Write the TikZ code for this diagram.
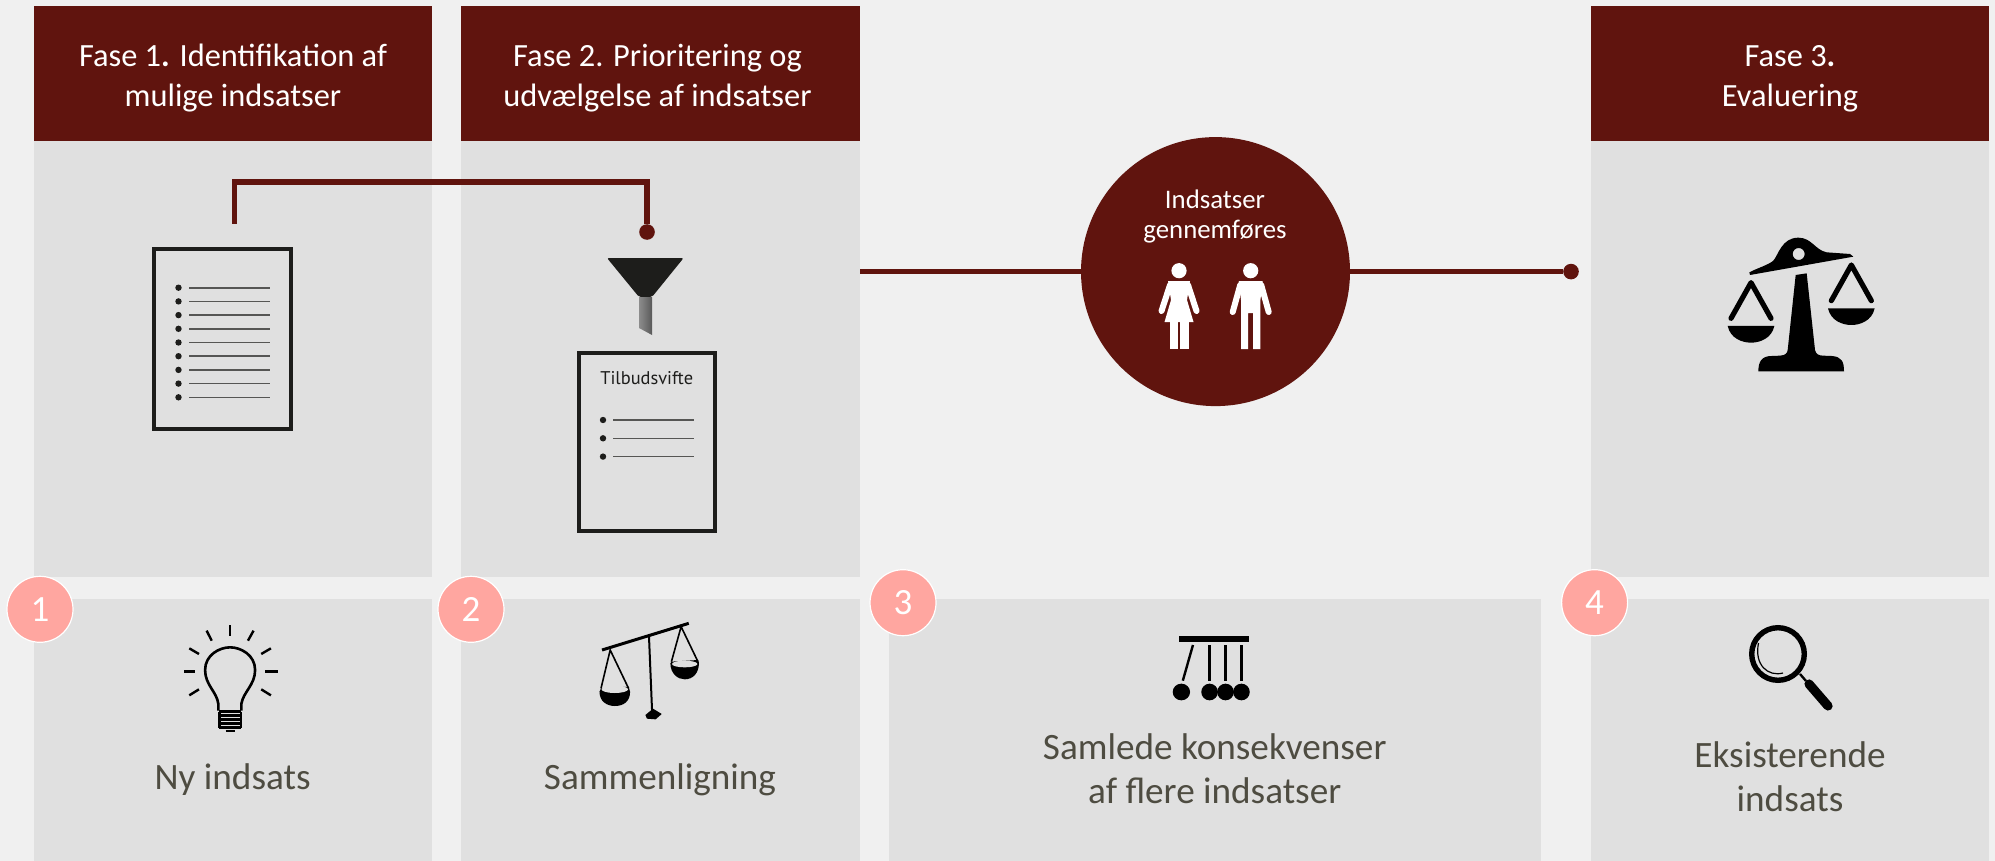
\documentclass[tikz,border=0pt]{standalone}
\usepackage{fontspec}
\usepackage{xcolor}
\setmainfont{Carlito}
\newfontfamily\docfont{PT Sans}
\newcommand{\headstrut}{\rule{0pt}{15.4pt}}
\definecolor{darkred}{HTML}{60140E}
\definecolor{pagegray}{HTML}{F0F0F0}
\definecolor{panelgray}{HTML}{E0E0E0}
\definecolor{badgepink}{HTML}{FFA6A0}
\definecolor{inkblack}{HTML}{1D1D1B}
\definecolor{captiongray}{HTML}{4E4C41}

\begin{document}
\begin{tikzpicture}[
        x=0.5pt, y=-0.5pt, % one unit is one pixel of the layout
        header/.style={
            rectangle,
            fill=darkred,
            minimum height=67.5pt,
            inner sep=0pt,
            align=center,
            text=white,
            font=\fontsize{16.2}{20}\selectfont
        },
        panel/.style={
            rectangle,
            fill=panelgray,
            inner sep=0pt
        },
        doc/.style={
            rectangle,
            draw=inkblack,
            line width=2pt,
            inner sep=0pt
        },
        badge/.style={
            circle,
            fill=badgepink,
            draw=white,
            line width=0.6pt,
            minimum size=33pt,
            inner sep=0pt,
            text=white,
            font=\fontsize{18.5}{20}\selectfont
        },
        caption/.style={
            align=center,
            inner sep=0pt,
            text=captiongray,
            font=\fontsize{18.6}{22}\selectfont
        },
        dot/.style={
            circle,
            fill=darkred,
            minimum size=7.8pt,
            inner sep=0pt
        },
        link/.style={
            line width=2.6pt,
            color=darkred
        },
        doclist/.style={
            line width=0.8pt,
            color=inkblack!75
        }
    ]
        \fill[pagegray] (0,0) rectangle (1995,861);
        \useasboundingbox (0,0) rectangle (1995,861);

        % panels
        \node (panelA) [panel, minimum width=199pt, minimum height=218pt] at (233,359) {};
        \node (panelB) [panel, minimum width=199.5pt, minimum height=218pt] at (660.5,359) {};
        \node (panelD) [panel, minimum width=199pt, minimum height=218pt] at (1790,359) {};
        \node (lowerA) [panel, minimum width=199pt, minimum height=131pt] at (233,730) {};
        \node (lowerB) [panel, minimum width=199.5pt, minimum height=131pt] at (660.5,730) {};
        \node (lowerC) [panel, minimum width=326pt, minimum height=131pt] at (1215,730) {};
        \node (lowerD) [panel, minimum width=199pt, minimum height=131pt] at (1790,730) {};

        % phase headers
        \node (fase1) [header, minimum width=199pt] at (233,73.5) {\headstrut Fase 1{\bfseries .} Identifikation af\\mulige indsatser};
        \node (fase2) [header, minimum width=199.5pt] at (660.5,73.5) {\headstrut\hspace*{-3pt}Fase 2. Prioritering og\\\hspace*{-3pt}udvælgelse af indsatser};
        \node (fase3) [header, minimum width=199pt] at (1790,73.5) {\headstrut Fase 3{\bfseries .}\\Evaluering};

        % list document
        \node (longlist) [doc, minimum width=68.5pt, minimum height=90pt] at (222.5,339) {};
        \foreach \row in {0,...,8} {
            \fill[inkblack] (178.5,287.7+13.7*\row) circle (3.2);
            \draw[doclist] (189,287.7+13.7*\row) -- (269.5,287.7+13.7*\row);
        }

        % short list document
        \node (shortlist) [doc, minimum width=68pt, minimum height=89pt] at (647,442) {};
        \node (shorttitle) [anchor=base, inner sep=0pt, text=inkblack, font=\docfont\fontsize{9.2}{10}\selectfont] at (646.7,384) {Tilbudsvifte};
        \foreach \row in {0,1,2} {
            \fill[inkblack] (603,420+18.3*\row) circle (3.2);
            \draw[doclist] (613,420+18.3*\row) -- (694,420+18.3*\row);
        }

        % funnel
        \fill[inkblack, rounded corners=1pt] (607,258) -- (683.6,258) -- (652,297) -- (639,297) -- cycle;
        \shade[left color=black!45, right color=black!65] (639,297) -- (652,297) -- (652,335) -- (639,328) -- cycle;

        % selection connector
        \coordinate (bracketstart) at (234.7,224);
        \node (filterdot) [dot] at (647,232) {};
        \draw[link] (bracketstart) -- ++(0,-42) -| (filterdot);

        % implementation circle
        \coordinate (linestart) at (860,271.6);
        \node (gennemfoer) [circle, fill=darkred, minimum size=134.5pt, inner sep=0pt] at (1215.5,271.6) {};
        \node (evaldot) [dot] at (1571,271.6) {};
        \draw[link] (linestart) -- (gennemfoer);
        \draw[link] (gennemfoer) -- (evaldot);
        \node (gennemtext) [anchor=center, align=center, inner sep=0pt, text=white, font=\fontsize{13.4}{14.75}\selectfont] at (1215,216.5) {Indsatser\\gennemføres};

        % woman
        \begin{scope}[shift={(1179,0)}, white]
            \fill (0,270.7) circle (7.6);
            \fill (-11,281) -- (11,281) -- (8,300) -- (14.5,322) -- (-14.5,322) -- (-8,300) -- cycle;
            \fill (-9.5,322) rectangle (-1,349);
            \fill (1,322) rectangle (9.5,349);
            \foreach \side in {-1,1}
                \draw[line width=3pt, line cap=round] (9*\side,285) -- (17.5*\side,311);
        \end{scope}

        % man
        \begin{scope}[shift={(1250.7,0)}, white]
            \fill (0,270.7) circle (7.6);
            \fill (-12,281) -- (12,281) -- (9.7,300) -- (9.7,349) -- (2.5,349) -- (2.5,313) -- (-2.5,313) -- (-2.5,349) -- (-9.7,349) -- (-9.7,300) -- cycle;
            \foreach \side in {-1,1}
                \draw[line width=3pt, line cap=round] (10.5*\side,285) -- (18*\side,312);
        \end{scope}

        % evaluation balance
        \begin{scope}[shift={(1560,210)}, scale=1/3]
            \fill[black, even odd rule] (568,187) .. controls (590,175) and (625,165) .. (640,152) .. controls (655,135) and (665,83) .. (715,83) .. controls (755,83) and (765,120) .. (800,127) -- (870,132) -- (880,140) -- (570,195) -- cycle (716,132) circle (18);
            \fill[black] (707,195) -- (740,190) -- (765,420) .. controls (768,432) and (775,437) .. (790,437) -- (815,438) .. controls (845,440) and (852,455) .. (852,484) -- (595,484) .. controls (595,455) and (605,438) .. (635,438) -- (660,437) .. controls (675,436) and (682,430) .. (683,420) -- cycle;
            \foreach \panx/\pany in {573/218,874/165} {
                \draw[black, line width=2.6pt, line cap=round, line join=round] (\panx-60,\pany+107) -- (\panx,\pany) -- (\panx+60,\pany+107);
                \fill[black] (\panx-70,\pany+130) -- (\panx+70,\pany+130) .. controls (\panx+62,\pany+167) and (\panx+27,\pany+180) .. (\panx,\pany+180) .. controls (\panx-27,\pany+180) and (\panx-62,\pany+167) .. (\panx-70,\pany+130) -- cycle;
            }
        \end{scope}

        % light bulb
        \begin{scope}[shift={(0,560)}, xscale=1/1.96, yscale=1/3, black]
            \draw[line width=1.3pt] (428,452) -- (428,432) .. controls (425,395) and (402,375) .. (402,330) .. controls (402,285) and (430,262) .. (451,262) .. controls (472,262) and (500,285) .. (500,330) .. controls (500,375) and (477,395) .. (473,432) -- (473,452);
            \foreach \ring in {455,467,479,491,503}
                \draw[line width=1.2pt] (430,\ring) -- (472,\ring);
            \draw[line width=1.2pt] (430,455) -- (430,503) (472,455) -- (472,503) (442,513) -- (460,513);
            \foreach \fromx/\fromy/\tox/\toy in {451/195/451/228,405/212/415/242,497/212/486/242,371/265/390/282,531/265/512/282,361/335/382/335,520/335/544/335,371/406/390/388,531/406/512/388}
                \draw[line width=1.2pt] (\fromx,\fromy) -- (\tox,\toy);
        \end{scope}

        % comparison balance
        \begin{scope}[shift={(0,560)}, xscale=1/1.96, yscale=1/3, black]
            \draw[line width=1.5pt] (1180,270) -- (1350,190);
            \draw[line width=1pt] (1272,228) -- (1278,450);
            \fill (1265,465) -- (1280,446) -- (1297,462) -- (1285,478) -- (1268,476) -- cycle;
            \draw[line width=0.8pt] (1178,385) -- (1196,270) -- (1232,385);
            \draw[line width=0.8pt] (1316,305) -- (1335,200) -- (1368,305);
            \fill (1175,395) .. controls (1175,425) and (1190,438) .. (1205,438) .. controls (1222,438) and (1235,425) .. (1235,395) -- (1232,380) -- (1178,385) -- cycle;
            \fill[panelgray] (1205,388) ellipse [x radius=26, y radius=11];
            \fill (1314,310) .. controls (1314,340) and (1328,358) .. (1342,358) .. controls (1358,358) and (1370,340) .. (1370,308) -- (1368,300) -- (1316,305) -- cycle;
            \fill[panelgray] (1342,312) ellipse [x radius=25, y radius=10];
        \end{scope}

        % pendulum
        \begin{scope}[shift={(860,560)}, xscale=1/1.3815, yscale=1/3, black]
            \fill (441,228) rectangle (537,246);
            \draw[line width=1.2pt] (460,255) -- (446,362);
            \foreach \swing in {483,505,527} {
                \draw[line width=1.2pt] (\swing,255) -- (\swing,362);
                \fill (\swing,396) ellipse [x radius=11.5, y radius=25];
            }
            \fill (444,396) ellipse [x radius=12, y radius=25];
        \end{scope}

        % magnifier
        \draw[black, line width=2.7pt] (1778,654) circle (26.3);
        \draw[black, line width=0.6pt] (1758.5,643) .. controls (1754,665) and (1768,677) .. (1783,673);
        \draw[black, line width=1.2pt] (1800,674) -- (1806,681);
        \draw[black, line width=4.6pt, line cap=round] (1809,684) -- (1828,706);

        % captions
        \node (ny) [caption, anchor=center] at (232.6,779.5) {Ny indsats};
        \node (sammenligning) [caption, anchor=center] at (660,779.5) {Sammenligning};
        \node (samlede) [caption, anchor=center] at (1214.7,769) {Samlede konsekvenser\\af flere indsatser};
        \node (eksisterende) [caption, anchor=center] at (1790,777) {Eksisterende\\indsats};

        % number badges
        \node (badge1) [badge] at (40,609.3) {1};
        \node (badge2) [badge] at (471,609.3) {2};
        \node (badge3) [badge] at (903,602.7) {3};
        \node (badge4) [badge] at (1594.6,602.7) {4};
    \end{tikzpicture}
\end{document}
